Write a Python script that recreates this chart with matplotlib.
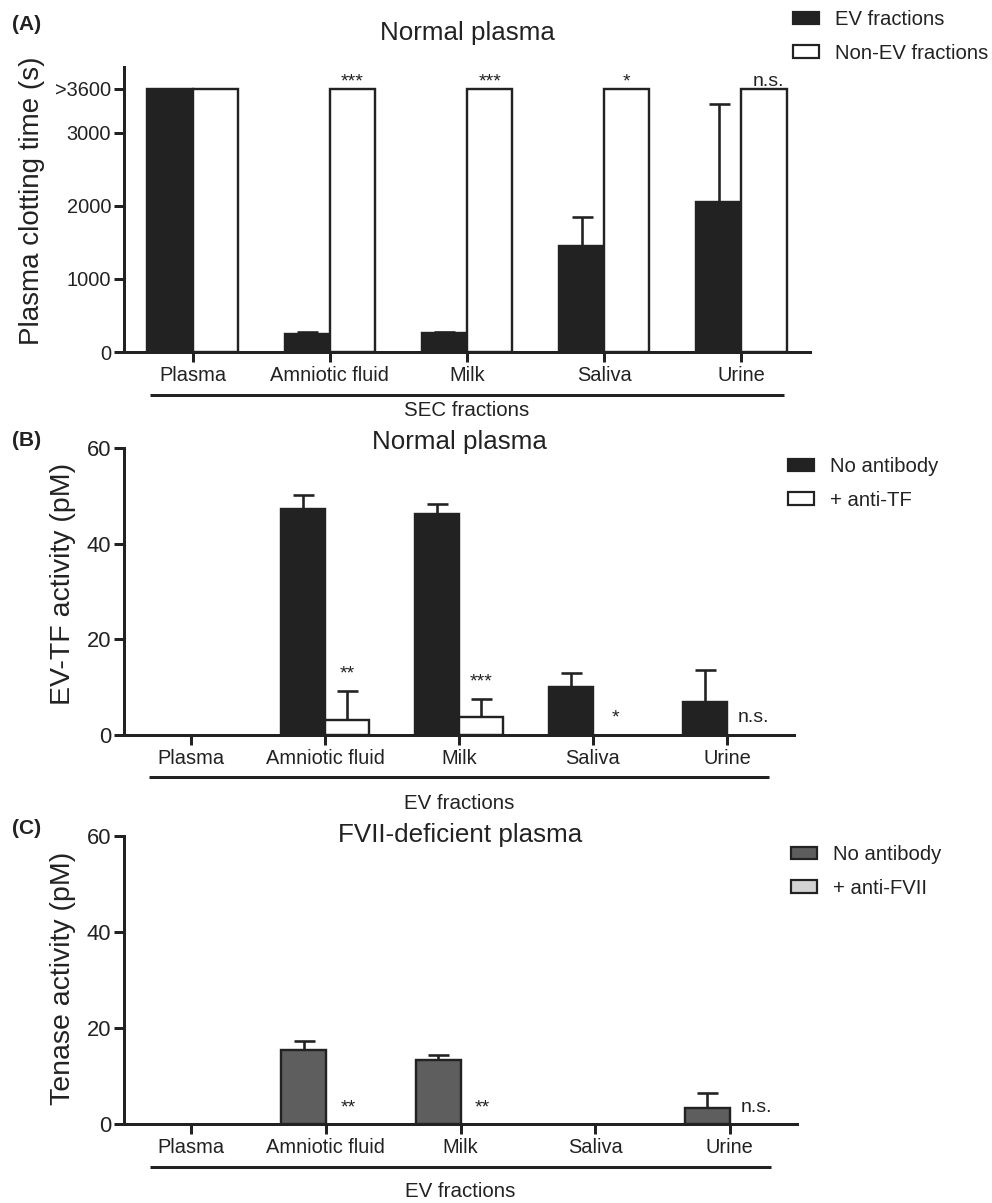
import matplotlib

matplotlib.use("Agg")
import matplotlib.pyplot as plt
import numpy as np
from matplotlib.patches import Patch

plt.rcParams["font.family"] = ["Liberation Sans", "DejaVu Sans"]

DARK = "#222222"
GREY = "#5e5e5e"
LIGHT = "#d4d4d4"

GROUPS = ["Plasma", "Amniotic fluid", "Milk", "Saliva", "Urine"]

# (A) plasma clotting time (s), SEC fractions
A_EV = [3600, 252, 255, 1450, 2055]
A_EV_ERR = [0, 25, 25, 400, 1340]
A_NONEV = [3600, 3600, 3600, 3600, 3600]
A_NONEV_ERR = [0, 0, 0, 0, 0]
A_SIG = ["", "***", "***", "*", "n.s."]
A_YTICKS = [0, 1000, 2000, 3000, 3600]
A_YTICKLABELS = ["0", "1000", "2000", "3000", ">3600"]

# (B) EV-TF activity (pM)
B_NOAB = [0, 47.2, 46.3, 10.0, 6.9]
B_NOAB_ERR = [0, 3.0, 1.9, 2.9, 6.6]
B_ANTI = [0, 3.1, 3.7, 0, 0]
B_ANTI_ERR = [0, 6.1, 3.8, 0, 0]
B_SIG = ["", "**", "***", "*", "n.s."]

# (C) tenase activity (pM)
C_NOAB = [0, 15.4, 13.3, 0, 3.3]
C_NOAB_ERR = [0, 1.9, 1.1, 0, 3.2]
C_ANTI = [0, 0, 0, 0, 0]
C_ANTI_ERR = [0, 0, 0, 0, 0]
C_SIG = ["", "**", "**", "", "n.s."]

ACT_YTICKS = [0, 20, 40, 60]

W, H = 992, 1203
PX = 0.72  # points per pixel at dpi 100
LW = 3 * PX


def panel(ax, first, first_err, second, second_err, sig, colors, names,
          title, title_y, xlabel, xlabel_y, line_y, sig_off, leg_xy, ytick_size):
    x = np.arange(len(GROUPS))
    w = 0.33
    for vals, errs, xs, (fc, ec) in ((first, first_err, x - w / 2, colors[0]),
                                     (second, second_err, x + w / 2, colors[1])):
        vals = np.asarray(vals, float)
        errs = np.asarray(errs, float)
        shown = vals > 0  # empty bars vanish into the axis line
        ax.bar(xs[shown], vals[shown], width=w, color=fc, edgecolor=ec,
               linewidth=2.4 * PX, zorder=3)
        m = errs > 0
        ax.errorbar(xs[m], vals[m], yerr=[np.zeros(m.sum()), errs[m]], fmt="none",
                    ecolor=DARK, elinewidth=2.6 * PX, capsize=10.5 * PX,
                    capthick=2.6 * PX, zorder=2)

    anchor = np.asarray(second, float) + np.asarray(second_err, float)
    for i, s in enumerate(sig):
        if s:
            ax.annotate(s, (x[i] + w / 2 + (0.03 if s == "n.s." else 0), anchor[i]),
                        xytext=(0, sig_off * PX), textcoords="offset points",
                        ha="center", va="center", fontsize=14, color=DARK)

    ax.set_xlim(-0.5, 4.5)
    ax.set_xticks(x)
    ax.set_xticklabels(GROUPS, fontsize=14.4, color=DARK)
    for side in ("top", "right"):
        ax.spines[side].set_visible(False)
    for side in ("left", "bottom"):
        ax.spines[side].set_linewidth(LW)
        ax.spines[side].set_color(DARK)
    ax.tick_params(axis="both", length=10 * PX, width=LW, color=DARK, pad=3)
    ax.tick_params(axis="y", labelsize=ytick_size, labelcolor=DARK, pad=2)

    tr = ax.get_xaxis_transform()
    ax.plot([-0.31, 4.31], [line_y, line_y], transform=tr, clip_on=False,
            color=DARK, linewidth=LW, solid_capstyle="butt")
    ax.text(2, xlabel_y, xlabel, transform=tr, ha="center", va="center",
            fontsize=14.8, color=DARK)
    ax.text(2, title_y, title, transform=tr, ha="center", va="center",
            fontsize=18.7, color=DARK)

    handles = [Patch(facecolor=fc, edgecolor=ec, linewidth=2.2 * PX)
               for fc, ec in colors]
    ax.figure.legend(handles, names, loc="upper left",
                     bbox_to_anchor=(leg_xy[0] / W, 1 - leg_xy[1] / H),
                     frameon=False, fontsize=14.6, handlelength=1.3,
                     handleheight=0.55, handletextpad=0.75, labelspacing=0.72,
                     borderpad=0, borderaxespad=0, labelcolor=DARK)


fig = plt.figure(figsize=(W / 100, H / 100), dpi=100)


def add_axes(left, right, top, bottom):
    return fig.add_axes([left / W, 1 - bottom / H, (right - left) / W,
                         (bottom - top) / H])


ax_a = add_axes(124, 810, 67, 352)
ax_b = add_axes(124, 794, 448, 735)
ax_c = add_axes(124, 797, 836, 1124)

panel(ax_a, A_EV, A_EV_ERR, A_NONEV, A_NONEV_ERR, A_SIG,
      [(DARK, DARK), ("white", DARK)], ["EV fractions", "Non-EV fractions"],
      "Normal plasma", 1.119, "SEC fractions", -0.204, -0.151, 7,
      (793, 10), 14.4)
ax_a.set_ylim(0, 3900)
ax_a.set_yticks(A_YTICKS)
ax_a.set_yticklabels(A_YTICKLABELS)
ax_a.set_ylabel("Plasma clotting time (s)", fontsize=20, color=DARK)
ax_a.yaxis.set_label_coords(-0.115, 0.53)

panel(ax_b, B_NOAB, B_NOAB_ERR, B_ANTI, B_ANTI_ERR, B_SIG,
      [(DARK, DARK), ("white", DARK)], ["No antibody", "+ anti-TF"],
      "Normal plasma", 1.021, "EV fractions", -0.237, -0.146, 17,
      (788, 457), 15.8)
ax_b.set_ylim(0, 60)
ax_b.set_yticks(ACT_YTICKS)
ax_b.set_ylabel("EV-TF activity (pM)", fontsize=20.5, color=DARK)
ax_b.yaxis.set_label_coords(-0.072, 0.526)

panel(ax_c, C_NOAB, C_NOAB_ERR, C_ANTI, C_ANTI_ERR, C_SIG,
      [(GREY, DARK), (LIGHT, DARK)], ["No antibody", "+ anti-FVII"],
      "FVII-deficient plasma", 1.003, "EV fractions", -0.236, -0.149, 16.5,
      (791, 845), 15.8)
ax_c.set_ylim(0, 60)
ax_c.set_yticks(ACT_YTICKS)
ax_c.set_ylabel("Tenase activity (pM)", fontsize=20.5, color=DARK)
ax_c.yaxis.set_label_coords(-0.072, 0.507)

for label, y in (("(A)", 24), ("(B)", 441), ("(C)", 829)):
    fig.text(12 / W, 1 - y / H, label, fontsize=15, fontweight="bold",
             ha="left", va="center", color=DARK)

fig.savefig("out.png", dpi=100)
